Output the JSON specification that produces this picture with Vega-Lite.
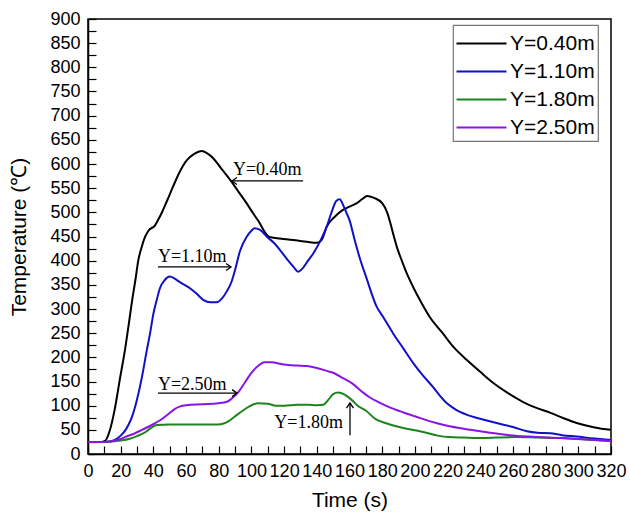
{
  "$schema": "https://vega.github.io/schema/vega-lite/v6.json",
  "width": 523,
  "height": 435,
  "autosize": {"type": "none"},
  "padding": {"left": 88, "top": 19, "right": 19, "bottom": 64},
  "background": "white",
  "datasets": {
    "curves": [
      {"s":"Y=0.40m","t":0,"T":25},{"s":"Y=0.40m","t":5,"T":25},{"s":"Y=0.40m","t":8,"T":25},{"s":"Y=0.40m","t":10.4,"T":27},{"s":"Y=0.40m","t":13,"T":45},{"s":"Y=0.40m","t":16.5,"T":95},{"s":"Y=0.40m","t":19.5,"T":155},{"s":"Y=0.40m","t":22.6,"T":215},{"s":"Y=0.40m","t":25,"T":270},{"s":"Y=0.40m","t":27,"T":318},{"s":"Y=0.40m","t":29,"T":360},{"s":"Y=0.40m","t":30.8,"T":401},{"s":"Y=0.40m","t":33,"T":430},{"s":"Y=0.40m","t":34.9,"T":449},{"s":"Y=0.40m","t":37,"T":462},{"s":"Y=0.40m","t":41,"T":473},{"s":"Y=0.40m","t":43,"T":485},{"s":"Y=0.40m","t":45,"T":498},{"s":"Y=0.40m","t":48.5,"T":525},{"s":"Y=0.40m","t":52,"T":553},{"s":"Y=0.40m","t":56,"T":583},{"s":"Y=0.40m","t":60.5,"T":608},{"s":"Y=0.40m","t":65,"T":621},{"s":"Y=0.40m","t":69.6,"T":627},{"s":"Y=0.40m","t":73,"T":622},{"s":"Y=0.40m","t":76.6,"T":612},{"s":"Y=0.40m","t":81,"T":593},{"s":"Y=0.40m","t":87,"T":567},{"s":"Y=0.40m","t":92,"T":543},{"s":"Y=0.40m","t":97,"T":519},{"s":"Y=0.40m","t":101,"T":498},{"s":"Y=0.40m","t":105,"T":478},{"s":"Y=0.40m","t":108,"T":460},{"s":"Y=0.40m","t":111,"T":449},{"s":"Y=0.40m","t":119.5,"T":445},{"s":"Y=0.40m","t":127,"T":442},{"s":"Y=0.40m","t":134,"T":439},{"s":"Y=0.40m","t":140,"T":437},{"s":"Y=0.40m","t":143,"T":443},{"s":"Y=0.40m","t":146,"T":470},{"s":"Y=0.40m","t":151,"T":491},{"s":"Y=0.40m","t":156,"T":505},{"s":"Y=0.40m","t":160,"T":512},{"s":"Y=0.40m","t":164.5,"T":519},{"s":"Y=0.40m","t":168,"T":528},{"s":"Y=0.40m","t":170.7,"T":534},{"s":"Y=0.40m","t":175,"T":530},{"s":"Y=0.40m","t":180,"T":519},{"s":"Y=0.40m","t":183,"T":500},{"s":"Y=0.40m","t":185,"T":478},{"s":"Y=0.40m","t":187,"T":452},{"s":"Y=0.40m","t":189,"T":428},{"s":"Y=0.40m","t":192,"T":400},{"s":"Y=0.40m","t":195,"T":374},{"s":"Y=0.40m","t":199,"T":345},{"s":"Y=0.40m","t":203,"T":319},{"s":"Y=0.40m","t":209,"T":284},{"s":"Y=0.40m","t":217,"T":250},{"s":"Y=0.40m","t":224,"T":220},{"s":"Y=0.40m","t":232,"T":194},{"s":"Y=0.40m","t":240,"T":170},{"s":"Y=0.40m","t":248,"T":147},{"s":"Y=0.40m","t":257,"T":126},{"s":"Y=0.40m","t":266,"T":108},{"s":"Y=0.40m","t":274,"T":96},{"s":"Y=0.40m","t":283,"T":85},{"s":"Y=0.40m","t":291,"T":74},{"s":"Y=0.40m","t":299,"T":64},{"s":"Y=0.40m","t":310,"T":55},{"s":"Y=0.40m","t":320,"T":50},

      {"s":"Y=1.10m","t":0,"T":25},{"s":"Y=1.10m","t":10,"T":25},{"s":"Y=1.10m","t":13.5,"T":26},{"s":"Y=1.10m","t":16.5,"T":29},{"s":"Y=1.10m","t":20,"T":38},{"s":"Y=1.10m","t":23,"T":50},{"s":"Y=1.10m","t":25,"T":62},{"s":"Y=1.10m","t":27,"T":78},{"s":"Y=1.10m","t":30,"T":113},{"s":"Y=1.10m","t":33,"T":159},{"s":"Y=1.10m","t":36,"T":215},{"s":"Y=1.10m","t":38,"T":250},{"s":"Y=1.10m","t":40,"T":290},{"s":"Y=1.10m","t":42,"T":318},{"s":"Y=1.10m","t":44,"T":343},{"s":"Y=1.10m","t":47,"T":360},{"s":"Y=1.10m","t":50,"T":367},{"s":"Y=1.10m","t":53,"T":363},{"s":"Y=1.10m","t":56,"T":356},{"s":"Y=1.10m","t":62.4,"T":343},{"s":"Y=1.10m","t":66,"T":333},{"s":"Y=1.10m","t":70.5,"T":319},{"s":"Y=1.10m","t":75,"T":314},{"s":"Y=1.10m","t":78.7,"T":314},{"s":"Y=1.10m","t":82,"T":322},{"s":"Y=1.10m","t":85,"T":337},{"s":"Y=1.10m","t":88,"T":358},{"s":"Y=1.10m","t":90,"T":381},{"s":"Y=1.10m","t":93,"T":420},{"s":"Y=1.10m","t":97,"T":449},{"s":"Y=1.10m","t":100,"T":462},{"s":"Y=1.10m","t":102,"T":467},{"s":"Y=1.10m","t":105,"T":464},{"s":"Y=1.10m","t":110,"T":448},{"s":"Y=1.10m","t":114,"T":436},{"s":"Y=1.10m","t":117.5,"T":422},{"s":"Y=1.10m","t":122,"T":402},{"s":"Y=1.10m","t":126,"T":386},{"s":"Y=1.10m","t":128.6,"T":377},{"s":"Y=1.10m","t":131,"T":383},{"s":"Y=1.10m","t":134,"T":397},{"s":"Y=1.10m","t":138,"T":416},{"s":"Y=1.10m","t":142,"T":440},{"s":"Y=1.10m","t":146,"T":470},{"s":"Y=1.10m","t":149,"T":500},{"s":"Y=1.10m","t":152,"T":524},{"s":"Y=1.10m","t":154,"T":527},{"s":"Y=1.10m","t":156,"T":516},{"s":"Y=1.10m","t":158,"T":500},{"s":"Y=1.10m","t":160,"T":484},{"s":"Y=1.10m","t":163,"T":445},{"s":"Y=1.10m","t":166.5,"T":403},{"s":"Y=1.10m","t":170,"T":368},{"s":"Y=1.10m","t":176.6,"T":305},{"s":"Y=1.10m","t":180.5,"T":284},{"s":"Y=1.10m","t":186.6,"T":250},{"s":"Y=1.10m","t":193,"T":218},{"s":"Y=1.10m","t":199,"T":188},{"s":"Y=1.10m","t":205,"T":162},{"s":"Y=1.10m","t":211,"T":139},{"s":"Y=1.10m","t":215,"T":122},{"s":"Y=1.10m","t":219.6,"T":105},{"s":"Y=1.10m","t":225,"T":92},{"s":"Y=1.10m","t":232,"T":81},{"s":"Y=1.10m","t":241,"T":72},{"s":"Y=1.10m","t":250,"T":64},{"s":"Y=1.10m","t":260,"T":56},{"s":"Y=1.10m","t":268.6,"T":47},{"s":"Y=1.10m","t":275,"T":44},{"s":"Y=1.10m","t":282.7,"T":43},{"s":"Y=1.10m","t":290,"T":39},{"s":"Y=1.10m","t":299,"T":36},{"s":"Y=1.10m","t":310,"T":32},{"s":"Y=1.10m","t":320,"T":29},

      {"s":"Y=1.80m","t":0,"T":25},{"s":"Y=1.80m","t":10,"T":25},{"s":"Y=1.80m","t":15,"T":26},{"s":"Y=1.80m","t":20,"T":28},{"s":"Y=1.80m","t":25,"T":31},{"s":"Y=1.80m","t":30,"T":37},{"s":"Y=1.80m","t":35,"T":45},{"s":"Y=1.80m","t":39,"T":55},{"s":"Y=1.80m","t":42,"T":60},{"s":"Y=1.80m","t":50,"T":61},{"s":"Y=1.80m","t":60,"T":61},{"s":"Y=1.80m","t":70,"T":61},{"s":"Y=1.80m","t":79.5,"T":61},{"s":"Y=1.80m","t":83,"T":63},{"s":"Y=1.80m","t":86,"T":68},{"s":"Y=1.80m","t":90,"T":78},{"s":"Y=1.80m","t":94,"T":88},{"s":"Y=1.80m","t":99,"T":99},{"s":"Y=1.80m","t":104,"T":105},{"s":"Y=1.80m","t":110,"T":104},{"s":"Y=1.80m","t":115,"T":100},{"s":"Y=1.80m","t":120,"T":100},{"s":"Y=1.80m","t":128,"T":102},{"s":"Y=1.80m","t":135,"T":102},{"s":"Y=1.80m","t":140,"T":101},{"s":"Y=1.80m","t":144,"T":102},{"s":"Y=1.80m","t":147,"T":112},{"s":"Y=1.80m","t":150,"T":124},{"s":"Y=1.80m","t":153,"T":127},{"s":"Y=1.80m","t":157,"T":123},{"s":"Y=1.80m","t":161,"T":113},{"s":"Y=1.80m","t":165,"T":100},{"s":"Y=1.80m","t":170,"T":90},{"s":"Y=1.80m","t":176,"T":72},{"s":"Y=1.80m","t":182,"T":64},{"s":"Y=1.80m","t":188,"T":58},{"s":"Y=1.80m","t":193,"T":54},{"s":"Y=1.80m","t":200,"T":49},{"s":"Y=1.80m","t":207,"T":44},{"s":"Y=1.80m","t":214,"T":38},{"s":"Y=1.80m","t":221,"T":35},{"s":"Y=1.80m","t":230,"T":34},{"s":"Y=1.80m","t":242,"T":33},{"s":"Y=1.80m","t":250,"T":34},{"s":"Y=1.80m","t":262,"T":35},{"s":"Y=1.80m","t":275,"T":34},{"s":"Y=1.80m","t":289,"T":33},{"s":"Y=1.80m","t":300,"T":31},{"s":"Y=1.80m","t":310,"T":29},{"s":"Y=1.80m","t":320,"T":27},

      {"s":"Y=2.50m","t":0,"T":25},{"s":"Y=2.50m","t":10,"T":25},{"s":"Y=2.50m","t":15,"T":27},{"s":"Y=2.50m","t":20,"T":31},{"s":"Y=2.50m","t":22.6,"T":35},{"s":"Y=2.50m","t":28.8,"T":43},{"s":"Y=2.50m","t":33,"T":50},{"s":"Y=2.50m","t":39,"T":60},{"s":"Y=2.50m","t":45,"T":72},{"s":"Y=2.50m","t":50,"T":85},{"s":"Y=2.50m","t":53,"T":93},{"s":"Y=2.50m","t":56,"T":98},{"s":"Y=2.50m","t":60,"T":101},{"s":"Y=2.50m","t":70,"T":103},{"s":"Y=2.50m","t":79.5,"T":105},{"s":"Y=2.50m","t":85,"T":108},{"s":"Y=2.50m","t":88,"T":115},{"s":"Y=2.50m","t":92,"T":128},{"s":"Y=2.50m","t":96,"T":148},{"s":"Y=2.50m","t":100,"T":168},{"s":"Y=2.50m","t":104,"T":182},{"s":"Y=2.50m","t":108,"T":190},{"s":"Y=2.50m","t":112,"T":190},{"s":"Y=2.50m","t":120,"T":185},{"s":"Y=2.50m","t":128,"T":183},{"s":"Y=2.50m","t":134,"T":182},{"s":"Y=2.50m","t":140,"T":178},{"s":"Y=2.50m","t":146,"T":172},{"s":"Y=2.50m","t":150,"T":168},{"s":"Y=2.50m","t":156,"T":157},{"s":"Y=2.50m","t":162,"T":145},{"s":"Y=2.50m","t":168,"T":128},{"s":"Y=2.50m","t":172,"T":118},{"s":"Y=2.50m","t":178,"T":107},{"s":"Y=2.50m","t":185,"T":96},{"s":"Y=2.50m","t":193,"T":86},{"s":"Y=2.50m","t":200,"T":78},{"s":"Y=2.50m","t":213,"T":64},{"s":"Y=2.50m","t":222,"T":57},{"s":"Y=2.50m","t":234,"T":50},{"s":"Y=2.50m","t":246,"T":44},{"s":"Y=2.50m","t":258,"T":39},{"s":"Y=2.50m","t":270,"T":36},{"s":"Y=2.50m","t":289,"T":33},{"s":"Y=2.50m","t":300,"T":31},{"s":"Y=2.50m","t":310,"T":29},{"s":"Y=2.50m","t":320,"T":27}
    ],
    "notes": [
      {"label":"Y=0.40m","t":88.7,"T":577,"side":"left"},
      {"label":"Y=1.10m","t":42.8,"T":397,"side":"left"},
      {"label":"Y=2.50m","t":42.8,"T":132,"side":"left"},
      {"label":"Y=1.80m","t":156,"T":54,"side":"right"}
    ],
    "arrows": [
      {"label":"Y=0.40m","t":88.1,"t2":131.6,"T":565,"T2":565},
      {"label":"Y=1.10m","t":42.8,"t2":87.5,"T":387,"T2":387},
      {"label":"Y=2.50m","t":42.8,"t2":91.2,"T":126,"T2":126},
      {"label":"Y=1.80m","t":160.3,"t2":160.3,"T":39,"T2":105.5}
    ],
    "headsLeft": [{"label":"Y=0.40m","t":88.1,"T":565}],
    "headsRight": [{"label":"Y=1.10m","t":87.5,"T":387},{"label":"Y=2.50m","t":91.2,"T":126}],
    "headsUp": [{"label":"Y=1.80m","t":160.3,"T":105.5}]
  },
  "encoding": {
    "x": {"field": "t", "type": "quantitative", "scale": {"domain": [0, 320], "nice": false}, "title": "Time (s)",
          "axis": {"values": [0,10,20,30,40,50,60,70,80,90,100,110,120,130,140,150,160,170,180,190,200,210,220,230,240,250,260,270,280,290,300,310,320],
                   "labelExpr": "datum.value % 20 === 0 ? datum.label : ''",
                   "labelOverlap": false, "labelBound": false, "labelFlush": false,
                   "tickSize": -8,
                   "encode": {"ticks": {"update": {"y2": {"signal": "datum.value % 20 === 0 ? -8 : -4"}}}},
                   "labelPadding": 16, "titlePadding": 9}},
    "y": {"field": "T", "type": "quantitative", "scale": {"domain": [0, 900], "nice": false}, "title": "Temperature (℃)",
          "axis": {"values": [0,25,50,75,100,125,150,175,200,225,250,275,300,325,350,375,400,425,450,475,500,525,550,575,600,625,650,675,700,725,750,775,800,825,850,875,900],
                   "labelExpr": "datum.value % 50 === 0 ? datum.label : ''",
                   "labelOverlap": false, "labelBound": false, "labelFlush": false,
                   "tickSize": -8,
                   "encode": {"ticks": {"update": {"x2": {"signal": "datum.value % 50 === 0 ? 8 : 4"}}}},
                   "labelPadding": 16, "titlePadding": 20}}
  },
  "layer": [
    {
      "data": {"name": "curves"},
      "mark": {"type": "line", "strokeWidth": 2, "interpolate": "monotone"},
      "encoding": {
        "color": {"field": "s", "type": "nominal",
                  "scale": {"domain": ["Y=0.40m","Y=1.10m","Y=1.80m","Y=2.50m"], "range": ["#000000","#1010C8","#1C841C","#8A14E6"]},
                  "legend": {"title": null, "orient": "none", "legendX": 365, "legendY": 6,
                             "symbolType": "M-1.76,0H1.76", "symbolSize": 807, "symbolStrokeWidth": 2,
                             "symbolOffset": 10, "labelOffset": 13}}
      }
    },
    {
      "data": {"name": "arrows"},
      "mark": {"type": "rule", "color": "black", "strokeWidth": 1.3},
      "encoding": {
        "x2": {"field": "t2"},
        "y2": {"field": "T2"}
      }
    },
    {
      "data": {"name": "headsLeft"},
      "mark": {"type": "point", "shape": "M1,-0.7L0,0L1,0.7", "filled": false, "stroke": "black", "strokeWidth": 1.3, "size": 100, "opacity": 1}
    },
    {
      "data": {"name": "headsRight"},
      "mark": {"type": "point", "shape": "M-1,-0.7L0,0L-1,0.7", "filled": false, "stroke": "black", "strokeWidth": 1.3, "size": 100, "opacity": 1}
    },
    {
      "data": {"name": "headsUp"},
      "mark": {"type": "point", "shape": "M-0.7,1L0,0L0.7,1", "filled": false, "stroke": "black", "strokeWidth": 1.3, "size": 100, "opacity": 1}
    },
    {
      "data": {"name": "notes"},
      "transform": [{"filter": "datum.side === 'left'"}],
      "mark": {"type": "text", "font": "Liberation Serif", "fontSize": 18, "align": "left", "baseline": "alphabetic", "color": "black"},
      "encoding": {"text": {"field": "label"}}
    },
    {
      "data": {"name": "notes"},
      "transform": [{"filter": "datum.side === 'right'"}],
      "mark": {"type": "text", "font": "Liberation Serif", "fontSize": 18, "align": "right", "baseline": "alphabetic", "color": "black"},
      "encoding": {"text": {"field": "label"}}
    }
  ],
  "config": {
    "view": {"stroke": "black", "strokeWidth": 1.5},
    "axis": {
      "grid": false, "domainColor": "black", "domainWidth": 1.5, "tickColor": "black", "tickWidth": 1.2,
      "labelFont": "Liberation Sans", "labelFontSize": 18, "labelColor": "black",
      "titleFont": "Liberation Sans", "titleFontSize": 21, "titleFontWeight": "normal", "titleColor": "black"
    },
    "legend": {
      "labelFont": "Liberation Sans", "labelFontSize": 21, "labelColor": "black",
      "strokeColor": "#777777", "strokeWidth": 1.2, "fillColor": "white", "padding": 3
    }
  }
}
